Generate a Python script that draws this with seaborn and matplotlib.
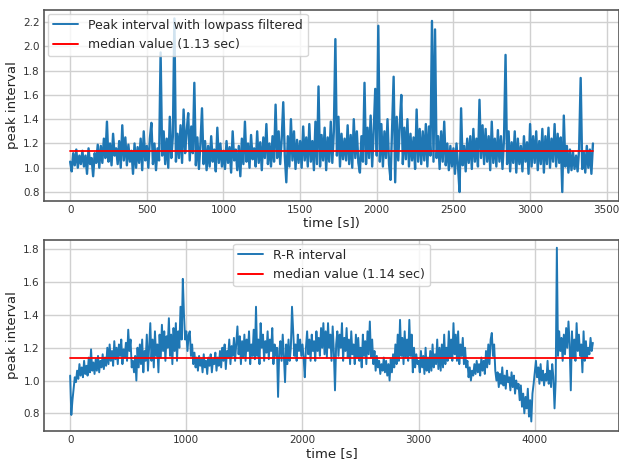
import numpy as np
import pandas as pd
import matplotlib
matplotlib.use("Agg")
import matplotlib.pyplot as plt
import seaborn as sns

# ---------------- data ----------------
dt_top = 10.0  # sampling step of the top series [s]
peak_top = [
    1.05, 0.97, 1.12, 1.02, 1.15, 1.00, 1.10, 1.03, 1.14, 1.01,
    1.10, 0.95, 1.16, 1.03, 1.08, 0.93, 1.12, 1.04, 1.19, 1.00,
    1.18, 1.04, 1.24, 1.08, 1.38, 1.05, 1.20, 1.02, 1.28, 1.10,
    1.16, 1.03, 1.22, 1.00, 1.35, 1.06, 1.25, 1.02, 1.19, 1.05,
    1.14, 0.95, 1.20, 1.00, 1.17, 1.04, 1.24, 0.98, 1.30, 1.06,
    1.18, 1.00, 1.24, 1.37, 1.03, 1.20, 0.98, 1.16, 1.06, 1.95,
    1.10, 1.30, 1.03, 1.24, 1.00, 1.42, 1.08, 1.26, 2.23, 1.05,
    1.28, 1.08, 1.35, 1.04, 1.48, 1.12, 1.30, 1.45, 1.06, 1.34,
    1.12, 1.70, 1.02, 1.25, 0.99, 1.20, 1.49, 1.03, 1.22, 0.98,
    1.18, 1.01, 1.26, 1.05, 1.15, 0.97, 1.33, 1.04, 1.20, 1.01,
    1.14, 0.99, 1.22, 1.04, 1.17, 0.96, 1.30, 1.06, 1.15, 0.98,
    1.18, 0.93, 1.24, 1.03, 1.38, 1.05, 1.20, 1.00, 1.27, 1.07,
    1.16, 1.01, 1.30, 1.04, 1.21, 0.98, 1.25, 1.08, 1.36, 1.03,
    1.20, 1.01, 1.26, 1.05, 1.52, 1.08, 1.30, 1.03, 1.24, 1.54,
    1.10, 0.88, 1.26, 1.01, 1.40, 1.06, 1.30, 0.99, 1.23, 1.04,
    1.22, 1.00, 1.34, 1.06, 1.25, 1.01, 1.36, 1.05, 1.22, 0.98,
    1.38, 1.03, 1.67, 1.01, 1.27, 1.06, 1.33, 0.98, 1.25, 1.05,
    1.38, 1.04, 1.30, 2.06, 1.10, 1.42, 1.01, 1.28, 1.07, 1.24,
    1.06, 1.35, 1.03, 1.27, 1.00, 1.40, 1.08, 1.30, 1.04, 0.96,
    1.26, 1.05, 1.70, 1.03, 1.33, 1.08, 1.43, 1.01, 1.30, 1.65,
    1.10, 2.17, 1.05, 1.36, 1.01, 1.30, 1.08, 1.40, 1.03, 0.90,
    1.33, 1.75, 0.88, 1.42, 1.06, 1.35, 1.60, 1.03, 1.33, 1.07,
    1.40, 1.01, 1.28, 1.06, 1.25, 0.99, 1.48, 1.05, 1.32, 1.03,
    1.30, 1.06, 1.36, 1.01, 1.34, 1.10, 2.21, 1.05, 2.14, 1.08,
    1.26, 0.99, 1.30, 1.05, 1.38, 1.02, 1.20, 0.98, 1.18, 1.01,
    1.16, 0.95, 1.20, 1.01, 0.80, 1.49, 1.02, 1.18, 0.97, 1.24,
    1.04, 1.26, 0.99, 1.32, 1.05, 1.24, 1.01, 1.56, 1.08, 1.35,
    1.03, 1.32, 1.05, 1.26, 0.98, 1.38, 1.04, 1.24, 1.01, 1.31,
    1.05, 1.26, 0.99, 1.24, 1.93, 1.03, 1.30, 0.97, 1.21, 1.04,
    1.30, 0.96, 1.24, 1.03, 1.18, 0.97, 1.26, 1.05, 1.21, 0.95,
    1.36, 1.01, 1.26, 1.04, 1.30, 0.98, 1.22, 1.03, 1.32, 0.96,
    1.26, 1.03, 1.33, 1.00, 1.24, 1.05, 1.36, 1.01, 1.28, 1.04,
    1.25, 0.80, 1.43, 1.01, 1.18, 0.96, 1.15, 0.98, 1.13, 0.99,
    1.10, 0.97, 1.16, 1.74, 0.99, 1.13, 0.96, 1.18, 1.00, 1.15,
    0.95, 1.20,
]
median_top = 1.135
label_top = "Peak interval with lowpass filtered"
label_med_top = "median value (1.13 sec)"

dt_bot = 10.0  # sampling step of the bottom series [s]
rr_bot = [
    1.03, 0.79, 0.88, 0.95, 1.02, 0.99, 1.06, 1.01, 1.10, 1.03,
    1.08, 1.02, 1.12, 1.04, 1.09, 1.03, 1.14, 1.05, 1.19, 1.06,
    1.11, 1.04, 1.13, 1.06, 1.15, 1.05, 1.12, 1.08, 1.16, 1.07,
    1.14, 1.09, 1.20, 1.10, 1.22, 1.12, 1.18, 1.09, 1.24, 1.13,
    1.20, 1.10, 1.22, 1.15, 1.25, 1.10, 1.19, 1.14, 1.23, 1.12,
    1.31, 1.18, 1.25, 1.08, 1.12, 1.05, 1.15, 1.00, 1.20, 1.08,
    1.22, 1.10, 1.25, 1.05, 1.18, 1.12, 1.28, 1.06, 1.21, 1.35,
    1.12, 1.25, 1.08, 1.30, 1.15, 1.22, 1.05, 1.28, 1.14, 1.34,
    1.18, 1.30, 1.12, 1.27, 1.20, 1.38, 1.15, 1.28, 1.10, 1.32,
    1.18, 1.35, 1.12, 1.30, 1.20, 1.45, 1.25, 1.62, 1.40, 1.25,
    1.30, 1.18, 1.28, 1.30, 1.15, 1.22, 1.10, 1.17, 1.08, 1.14,
    1.06, 1.15, 1.09, 1.13, 1.05, 1.16, 1.08, 1.12, 1.04, 1.14,
    1.09, 1.16, 1.05, 1.13, 1.10, 1.17, 1.06, 1.14, 1.09, 1.18,
    1.08, 1.20, 1.12, 1.22, 1.07, 1.18, 1.14, 1.25, 1.10, 1.21,
    1.15, 1.26, 1.12, 1.23, 1.33, 1.16, 1.27, 1.10, 1.24, 1.14,
    1.28, 1.12, 1.25, 1.18, 1.30, 1.10, 1.22, 1.15, 1.31, 1.13,
    1.45, 1.15, 1.25, 1.10, 1.35, 1.20, 1.28, 1.12, 1.24, 1.17,
    1.30, 1.13, 1.25, 1.18, 1.32, 1.10, 1.22, 1.15, 1.20, 0.90,
    1.18, 1.24, 1.12, 1.28, 1.15, 0.99, 1.22, 1.10, 1.25, 1.12,
    1.20, 1.45, 1.30, 1.15, 1.22, 1.12, 1.28, 1.18, 1.25, 1.15,
    1.22, 1.14, 1.02, 1.20, 1.30, 1.16, 1.25, 1.12, 1.28, 1.18,
    1.24, 1.12, 1.30, 1.18, 1.26, 1.15, 1.32, 1.20, 1.35, 1.16,
    1.30, 1.14, 1.35, 1.20, 1.28, 1.12, 1.33, 1.18, 0.94, 1.22,
    1.30, 1.15, 1.28, 1.20, 1.35, 1.12, 1.26, 1.18, 1.32, 1.14,
    1.25, 1.10, 1.30, 1.16, 1.22, 1.10, 1.28, 1.14, 1.26, 1.12,
    1.20, 1.08, 1.28, 1.15, 1.24, 1.10, 1.30, 1.16, 1.36, 1.14,
    1.25, 1.10, 1.18, 1.06, 1.15, 1.08, 1.12, 1.04, 1.10, 1.06,
    1.14, 1.05, 1.12, 1.03, 1.10, 1.00, 1.13, 1.05, 1.16, 1.08,
    1.22, 1.10, 1.28, 1.12, 1.37, 1.15, 1.26, 1.10, 1.30, 1.14,
    1.25, 1.12, 1.37, 1.15, 1.28, 1.05, 1.20, 1.08, 1.16, 1.10,
    1.12, 1.05, 1.18, 1.08, 1.15, 1.04, 1.20, 1.06, 1.14, 1.05,
    1.18, 1.06, 1.22, 1.08, 1.16, 1.10, 1.25, 1.07, 1.20, 1.06,
    1.22, 1.08, 1.28, 1.10, 1.20, 1.12, 1.30, 1.14, 1.25, 1.12,
    1.35, 1.16, 1.28, 1.12, 1.30, 1.10, 1.22, 1.15, 1.26, 1.10,
    1.20, 1.08, 1.12, 1.02, 1.08, 1.00, 1.06, 1.03, 1.10, 1.04,
    1.12, 1.05, 1.10, 1.03, 1.14, 1.06, 1.12, 1.04, 1.18, 1.08,
    1.22, 1.10, 1.25, 1.29, 1.15, 1.22, 1.06, 1.00, 1.05, 0.96,
    1.04, 0.98, 1.08, 0.97, 1.03, 0.95, 1.06, 0.99, 1.02, 0.94,
    1.05, 0.96, 1.03, 0.92, 1.00, 0.95, 0.98, 0.88, 0.97, 0.84,
    0.92, 0.80, 0.90, 0.83, 0.95, 0.78, 0.88, 0.75, 0.92, 0.98,
    1.05, 1.12, 1.02, 1.08, 0.98, 1.10, 1.00, 1.06, 0.97, 1.04,
    1.00, 1.12, 0.98, 1.06, 0.96, 1.10, 1.02, 0.83, 1.00, 1.81,
    1.15, 1.30, 1.18, 1.26, 1.12, 1.28, 1.16, 1.32, 1.20, 1.36,
    1.22, 0.94, 1.30, 1.14, 1.25, 1.12, 1.35, 1.18, 1.28, 1.15,
    1.22, 1.05, 1.30, 1.12, 1.24, 1.14, 1.20, 1.16, 1.26, 1.18,
    1.23,
]
median_bot = 1.137
label_bot = "R-R interval"
label_med_bot = "median value (1.14 sec)"

xticks_top = [0, 500, 1000, 1500, 2000, 2500, 3000, 3500]
yticks_top = [0.8, 1.0, 1.2, 1.4, 1.6, 1.8, 2.0, 2.2]
xticks_bot = [0, 1000, 2000, 3000, 4000]
yticks_bot = [0.8, 1.0, 1.2, 1.4, 1.6, 1.8]

# ---------------- style ----------------
sns.set_theme(style="whitegrid")
plt.rcParams.update({
    "font.family": ["DejaVu Sans"],
    "axes.edgecolor": "#555555",
    "axes.linewidth": 1.2,
    "grid.color": "#d0d0d0",
    "grid.linewidth": 1.0,
    "xtick.labelsize": 7.5,
    "ytick.labelsize": 7.5,
    "xtick.color": "#333333",
    "ytick.color": "#333333",
})

BLUE = "#1f77b4"
RED = "red"

fig = plt.figure(figsize=(6.19, 4.63), dpi=100)
ax1 = fig.add_axes([0.0711, 0.5659, 0.9289, 0.4125])
ax2 = fig.add_axes([0.0711, 0.0691, 0.9289, 0.4125])

df_top = pd.DataFrame({"time": np.arange(len(peak_top)) * dt_top, "val": peak_top})
df_bot = pd.DataFrame({"time": np.arange(len(rr_bot)) * dt_bot, "val": rr_bot})

for ax, df, med, lab, lab_med, lw in [
    (ax1, df_top, median_top, label_top, label_med_top, 1.7),
    (ax2, df_bot, median_bot, label_bot, label_med_bot, 1.4),
]:
    sns.lineplot(data=df, x="time", y="val", ax=ax, color=BLUE,
                 linewidth=lw, label=lab, estimator=None, sort=False)
    med_df = pd.DataFrame({"time": [df["time"].iloc[0], df["time"].iloc[-1]],
                           "val": [med, med]})
    sns.lineplot(data=med_df, x="time", y="val", ax=ax, color=RED,
                 linewidth=1.3, label=lab_med, estimator=None)
    ax.set_ylabel("peak interval", fontsize=9.5, color="#222222", labelpad=3)
    ax.tick_params(axis="both", length=0, pad=3)
    for s in ax.spines.values():
        s.set_visible(True)

ax1.set_xlabel("time [s])", fontsize=9.5, color="#222222", labelpad=1)
ax2.set_xlabel("time [s]", fontsize=9.5, color="#222222", labelpad=1)

ax1.set_xticks(xticks_top)
ax1.set_yticks(yticks_top)
ax1.set_xlim(-170.5, 3580)
ax1.set_ylim(0.726, 2.30)
ax2.set_xticks(xticks_bot)
ax2.set_yticks(yticks_bot)
ax2.set_xlim(-225, 4725)
ax2.set_ylim(0.692, 1.857)

leg1 = ax1.legend(loc="upper left", fontsize=9, frameon=True, framealpha=0.8,
                  edgecolor="#cccccc", fancybox=True, borderaxespad=0.3)
leg2 = ax2.legend(loc="upper center", fontsize=9, frameon=True, framealpha=0.8,
                  edgecolor="#cccccc", fancybox=True, borderaxespad=0.3)
for leg in (leg1, leg2):
    for h in leg.get_lines():
        h.set_linewidth(1.4)

fig.savefig("out.png", dpi=100)
